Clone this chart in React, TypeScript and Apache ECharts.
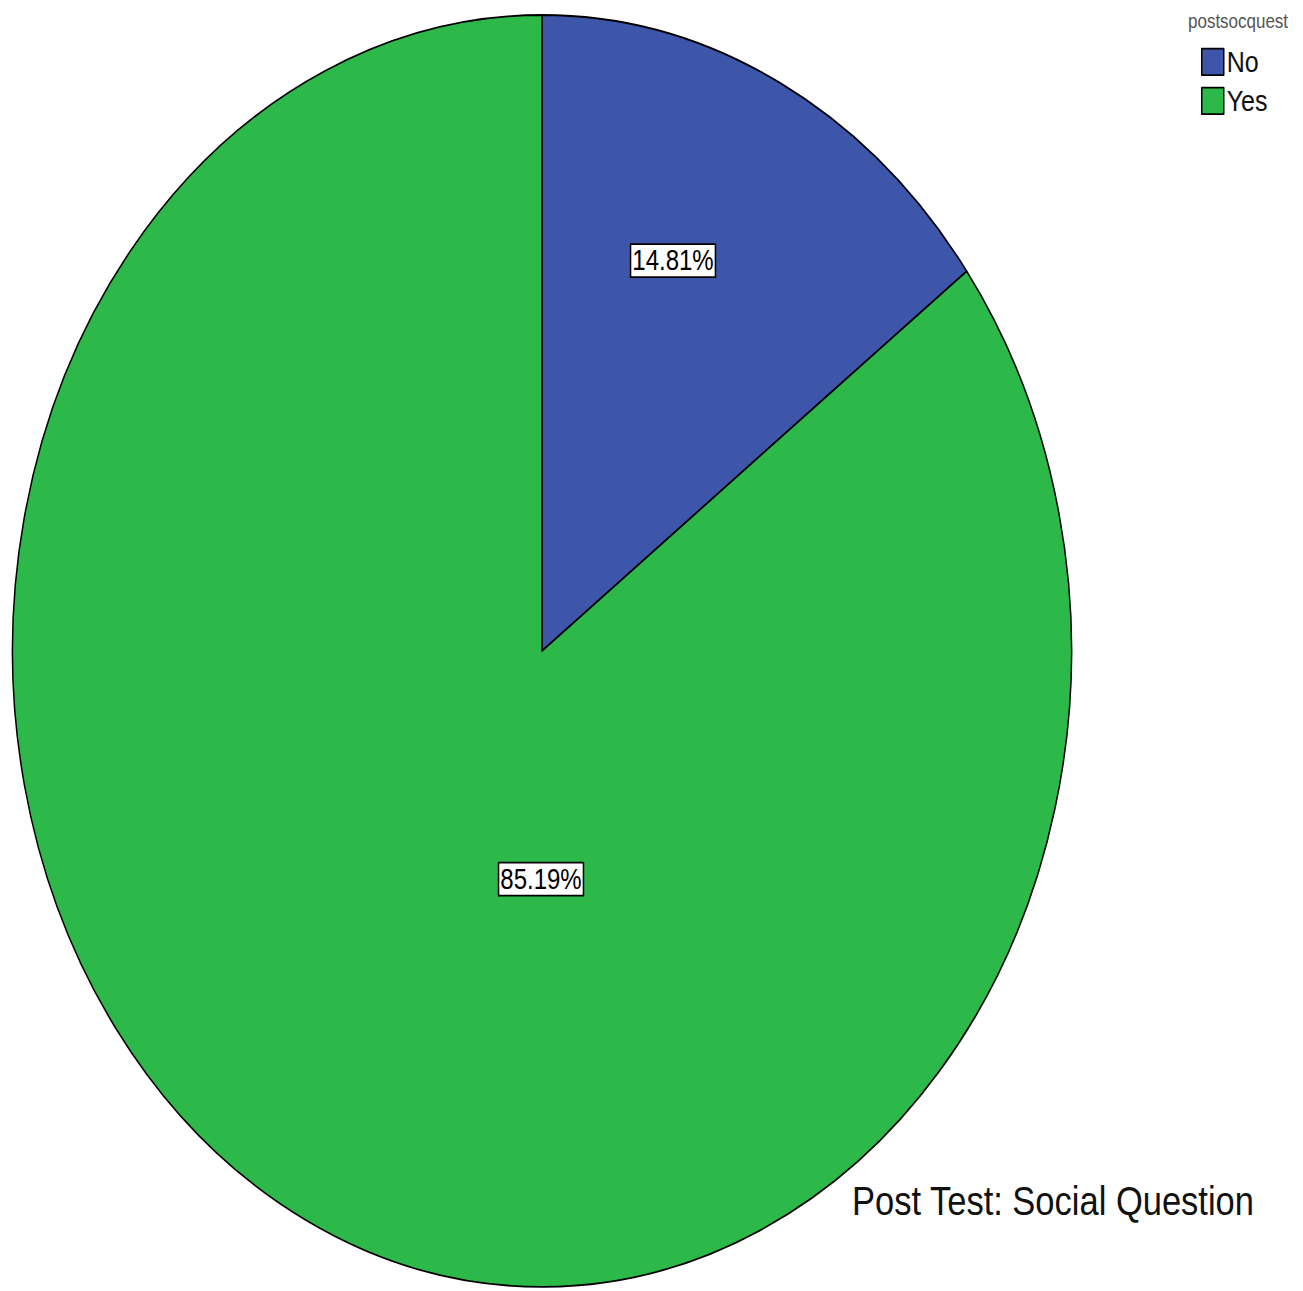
import React, { useEffect, useRef } from "react";
import * as echarts from "echarts";

const categories = ["No", "Yes"];
const counts = [4, 23];
const colors = ["#3d56aa", "#2db84a"];
const chartTitle = "Post Test: Social Question";
const legendTitle = "postsocquest";

const W = 1303;
const SCALE_Y = 1.201;
const H = Math.round(1291 / SCALE_Y);

export default function App() {
  const ref = useRef<HTMLDivElement>(null);
  useEffect(() => {
    if (!ref.current) return;
    const chart = echarts.init(ref.current, undefined, { renderer: "svg" });
    const font = "'Liberation Sans', Arial, sans-serif";
    const labelPos = [
      { x: 673, y: 217 },
      { x: 541, y: 732 },
    ];
    chart.setOption({
      animation: false,
      backgroundColor: "#ffffff",
      title: {
        text: chartTitle,
        left: 852,
        top: 982,
        padding: 0,
        textStyle: { fontFamily: font, fontSize: 34.5, fontWeight: "normal", color: "#111" },
      },
      legend: {
        orient: "vertical",
        left: 1201,
        top: 39,
        padding: 0,
        itemWidth: 22,
        itemHeight: 22,
        itemGap: 7.5,
        icon: "rect",
        itemStyle: { borderColor: "#000", borderWidth: 1.5 },
        textStyle: { fontFamily: font, fontSize: 25, color: "#111", padding: [0, 0, 0, -2] },
        data: categories,
      },
      graphic: [
        {
          type: "text",
          left: 1188,
          top: 9,
          style: { text: legendTitle, fontFamily: font, fontSize: 17, fill: "#555" },
        },
      ],
      series: [
        {
          type: "pie",
          center: [542, 542],
          radius: 529.5,
          startAngle: 90,
          clockwise: true,
          percentPrecision: 2,
          emphasis: { disabled: true },
          itemStyle: { borderColor: "#000", borderWidth: 1.5 },
          label: {
            show: true,
            position: "inside",
            formatter: "{d}%",
            fontFamily: font,
            fontSize: 24,
            color: "#000",
            backgroundColor: "#fff",
            borderColor: "#000",
            borderWidth: 1.5,
            padding: [2, 1, 0, 1],
          },
          labelLine: { show: false },
          labelLayout: (params: any) => labelPos[params.dataIndex],
          data: categories.map((name, i) => ({
            name,
            value: counts[i],
            itemStyle: { color: colors[i] },
          })),
        },
      ],
    });
    return () => chart.dispose();
  }, []);

  return (
    <div style={{ position: "absolute", left: 0, top: 0, width: W, height: 1291, overflow: "hidden", background: "#fff" }}>
      <div
        ref={ref}
        style={{
          width: W,
          height: H,
          transform: `scaleY(${SCALE_Y})`,
          transformOrigin: "0 0",
        }}
      />
    </div>
  );
}
